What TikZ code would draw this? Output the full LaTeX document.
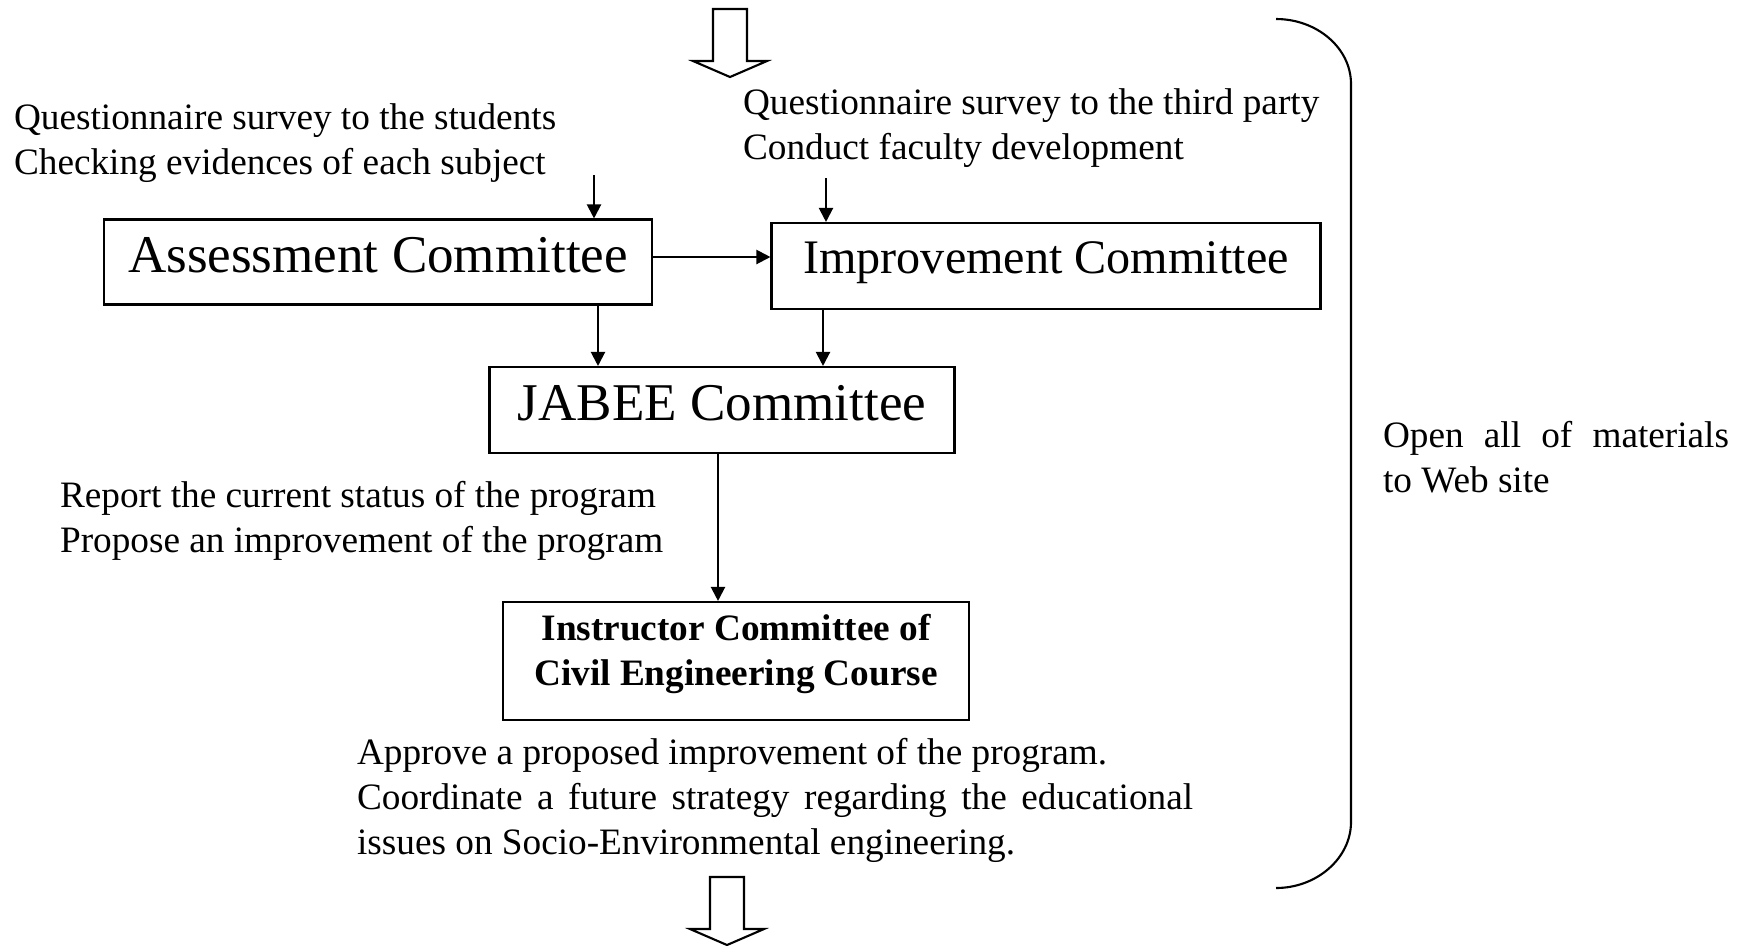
\documentclass[tikz,border=0pt]{standalone}
\usepackage{fontspec}
\setmainfont{Liberation Serif}
\usepackage{tikz}
\usetikzlibrary{arrows.meta,calc}

\tikzset{
  cbox/.style={draw, line width=.6pt, inner sep=0pt, text height=.7em, text depth=.08em,
               font=\fontsize{15.1}{18}\selectfont},
  note/.style={inner sep=0pt, anchor=north west, align=left, font=\fontsize{10.6}{12.8}\selectfont},
  openarrow/.pic={\draw[line width=.6pt] (-17,0) -- (17,0) -- (17,52) -- (37,52) -- (0,68) -- (-37,52) -- (-17,52) -- cycle;}
}

\begin{document}
\begin{tikzpicture}[x=.1mm, y=-.1mm, line width=.6pt, >={Triangle[length=1.4mm,width=1.4mm]}]
  \useasboundingbox (0,0) rectangle (1748,945);
  \pic at (730,9) {openarrow};
  \pic at (727,877) {openarrow};

  % committees
  \node[cbox, minimum width=54.8mm, minimum height=8.5mm] (assess) at (378,262) {Assessment Committee};
  \node[cbox, minimum width=54.9mm, minimum height=8.6mm, font=\fontsize{13.7}{16}\selectfont,
        text depth=.3em] (improve) at (1046,266) {Improvement Committee};
  \node[cbox, minimum width=46.5mm, minimum height=8.6mm] (jabee) at (722,410) {JABEE Committee};
  \node[cbox, minimum width=46.6mm, minimum height=11.8mm, text width=46mm, align=flush center,
        text height=7.5pt, text depth=19pt,
        font=\fontsize{10.6}{12.8}\selectfont\bfseries] (instr) at (736,661)
        {Instructor Committee of\\Civil Engineering Course};

  % inputs and outputs
  \node[note] (stud) at (13,103) {Questionnaire survey to the students\\Checking evidences of each subject};
  \node[note] (third) at (742,88) {Questionnaire survey to the third party\\Conduct faculty development};
  \node[note] (report) at (59,480) {Report the current status of the program\\Propose an improvement of the program};
  \node[note, text width=83.6mm, align=justify] (approve) at (356,737)
        {Approve a proposed improvement of the program.\\Coordinate a future strategy regarding the educational\linebreak issues on Socio-Environmental engineering.};
  \node[note, text width=34.6mm, align=justify] (web) at (1382,420) {Open all of materials\linebreak to Web site};

  \coordinate (sin) at (594,175);
  \coordinate (tin) at (826,178);
  \draw[->] (sin) -- (sin |- assess.north);
  \draw[->] (tin) -- (tin |- improve.north);
  \draw[->] ([yshift=.5mm]assess.east) -- ([yshift=.5mm]assess.east -| improve.west);
  \draw[->] ([xshift=22mm]assess.south) -- ([xshift=22mm]assess.south |- jabee.north);
  \draw[->] ([xshift=-22.3mm]improve.south) -- ([xshift=-22.3mm]improve.south |- jabee.north);
  \draw[->] ([xshift=-.4mm]jabee.south) -- ([xshift=-.4mm]jabee.south |- instr.north);

  % bracket
  \draw (1276,19) .. controls (1317,19) and (1351,48) .. (1351,84) -- (1351,822)
        .. controls (1351,858) and (1317,888) .. (1276,888);
\end{tikzpicture}
\end{document}
